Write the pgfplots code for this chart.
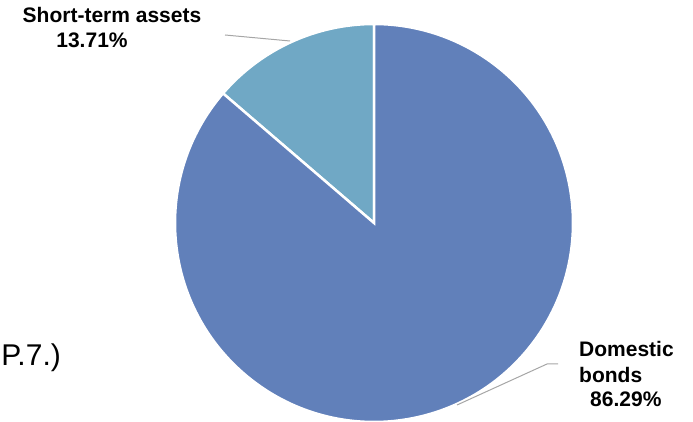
\documentclass[border=0pt]{standalone}
\usepackage{pgfplots}
\usepackage{pgfplotstable}
\pgfplotsset{compat=1.18}
\usepackage{fontspec}
\setmainfont{Liberation Sans}

\definecolor{bondblue}{HTML}{6180BA}
\definecolor{shortblue}{HTML}{70A8C5}
\definecolor{leader}{HTML}{A6A6A6}

% shares in percent
\pgfplotstableread{
name share
short 13.71
bonds 86.29
}\pieshares

\begin{document}
\begin{tikzpicture}
\pgfplotstablegetelem{0}{share}\of\pieshares
\let\sshort\pgfplotsretval
\pgfmathsetmacro{\aone}{90+3.6*\sshort}
\pgfmathsetmacro{\atwo}{450}
\clip (0,0) rectangle (693pt,422pt);
\begin{axis}[
  scale only axis, width=693pt, height=422pt,
  xmin=0, xmax=693, ymin=0, ymax=422,
  hide axis, clip=false,
]
% slices, centre (374,199), radius 199
\fill[shortblue, draw=white, line width=2.5pt, line join=miter]
  (axis cs:374,199) -- ++(90:199pt) arc[start angle=90, end angle=\aone, radius=199pt] -- cycle;
\fill[bondblue, draw=white, line width=2.5pt, line join=miter]
  (axis cs:374,199) -- ++(\aone:199pt) arc[start angle=\aone, end angle=\atwo, radius=199pt] -- cycle;

% leader lines
\draw[leader, line width=1pt] (axis cs:225,387) -- (axis cs:290,381);
\draw[leader, line width=1pt] (axis cs:457,17) -- (axis cs:547,58) -- (axis cs:558,58);

% labels
\begin{scope}[every node/.style={inner sep=0pt, font=\fontsize{21}{25}\selectfont\bfseries}]
\node[anchor=base] at (axis cs:112,399) {Short-term assets};
\node[anchor=base] at (axis cs:92,374) {13.71\%};
\node[anchor=base west] at (axis cs:579,65) {Domestic};
\node[anchor=base west] at (axis cs:579,39) {bonds};
\node[anchor=base west] at (axis cs:590,15) {86.29\%};
\end{scope}
\node[anchor=base east, inner sep=0pt, font=\fontsize{30}{34}\selectfont] at (axis cs:61,56) {P.7.)};
\end{axis}
\end{tikzpicture}
\end{document}
